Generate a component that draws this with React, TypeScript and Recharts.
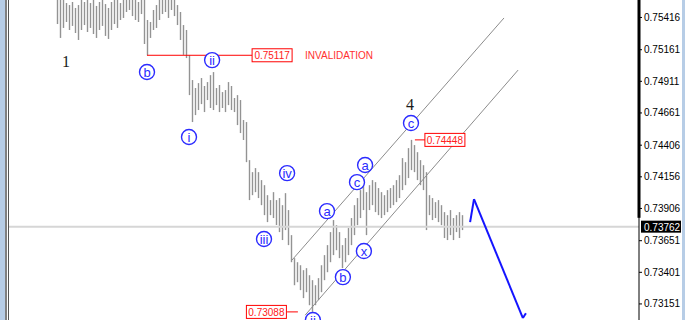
import React from 'react';
import { ComposedChart, Bar, XAxis, YAxis, ReferenceLine, ReferenceDot } from 'recharts';

const yTicks = [0.73151, 0.73401, 0.73651, 0.73906, 0.74156, 0.74406, 0.74661, 0.74911, 0.75161, 0.75416];

const highs = [
  0.75594, 0.75594, 0.75554, 0.75530, 0.75514, 0.75538, 0.75491, 0.75514, 0.75554, 0.75538,
  0.75594, 0.75530, 0.75554, 0.75507, 0.75538, 0.75554, 0.75522, 0.75491, 0.75538, 0.75594,
  0.75554, 0.75530, 0.75594, 0.75594, 0.75594, 0.75554, 0.75594, 0.75538, 0.75594, 0.75554,
  0.75396, 0.75380, 0.75475, 0.75514, 0.75594, 0.75594, 0.75554, 0.75594, 0.75594, 0.75554,
  0.75514, 0.75459, 0.75356, 0.75317, 0.75118, 0.74921, 0.74858, 0.74897, 0.74937, 0.74874,
  0.74905, 0.74960, 0.74984, 0.74858, 0.74882, 0.74826, 0.74842, 0.74905, 0.74874, 0.74779,
  0.74802, 0.74763, 0.74605, 0.74589, 0.74288, 0.74193, 0.74225, 0.74193, 0.74130, 0.74090,
  0.74011, 0.73972, 0.74035, 0.73972, 0.73988, 0.73932, 0.74027, 0.73893, 0.73695, 0.73513,
  0.73481, 0.73457, 0.73418, 0.73434, 0.73378, 0.73339, 0.73299, 0.73355, 0.73457, 0.73537,
  0.73616, 0.73719, 0.73814, 0.73774, 0.73719, 0.73616, 0.73672, 0.73751, 0.73830, 0.73932,
  0.73988, 0.74051, 0.74090, 0.74035, 0.74090, 0.74130, 0.74114, 0.74067, 0.74035, 0.74011,
  0.74051, 0.74067, 0.74090, 0.74130, 0.74169, 0.74304, 0.74272, 0.74383, 0.74448, 0.74407,
  0.74351, 0.74288, 0.74248, 0.74193, 0.74011, 0.73988, 0.73956, 0.73972, 0.73932, 0.73877,
  0.73853, 0.73893, 0.73830, 0.73853, 0.73877, 0.73853,
];

const lows = [
  0.75364, 0.75254, 0.75333, 0.75380, 0.75317, 0.75349, 0.75293, 0.75238, 0.75317, 0.75356,
  0.75301, 0.75333, 0.75285, 0.75254, 0.75317, 0.75349, 0.75270, 0.75246, 0.75317, 0.75364,
  0.75333, 0.75396, 0.75412, 0.75459, 0.75475, 0.75427, 0.75396, 0.75380, 0.75443, 0.75206,
  0.75117, 0.75254, 0.75317, 0.75333, 0.75396, 0.75443, 0.75459, 0.75412, 0.75475, 0.75427,
  0.75356, 0.75238, 0.75120, 0.75095, 0.74802, 0.74589, 0.74644, 0.74684, 0.74731, 0.74668,
  0.74763, 0.74700, 0.74684, 0.74723, 0.74668, 0.74700, 0.74668, 0.74723, 0.74684, 0.74668,
  0.74565, 0.74502, 0.74447, 0.74272, 0.73972, 0.74011, 0.74035, 0.73988, 0.73932, 0.73853,
  0.73798, 0.73853, 0.73830, 0.73775, 0.73719, 0.73656, 0.73735, 0.73616, 0.73481, 0.73299,
  0.73323, 0.73260, 0.73197, 0.73244, 0.73141, 0.73088, 0.73141, 0.73181, 0.73244, 0.73339,
  0.73402, 0.73481, 0.73537, 0.73576, 0.73513, 0.73434, 0.73481, 0.73537, 0.73616, 0.73695,
  0.73774, 0.73830, 0.73893, 0.73695, 0.73893, 0.73932, 0.73877, 0.73853, 0.73830, 0.73853,
  0.73877, 0.73909, 0.73932, 0.73956, 0.73988, 0.74051, 0.74090, 0.74146, 0.74209, 0.74193,
  0.74130, 0.74090, 0.74051, 0.73735, 0.73853, 0.73814, 0.73830, 0.73798, 0.73774, 0.73672,
  0.73656, 0.73695, 0.73656, 0.73719, 0.73672, 0.73735,
];

const lastPrice = 0.73762;

const upperChannel = [{ i: 78.3, p: 0.73497 }, { i: 149, p: 0.75412 }];
const lowerChannel = [{ i: 82.7, p: 0.73062 }, { i: 153.7, p: 0.75 }];
const forecast = [
  { i: 137.7, p: 0.73798 },
  { i: 139, p: 0.7398 },
  { i: 155.3, p: 0.73039 },
  { i: 156.3, p: 0.73078 },
];

const circledLabels = [
  { t: 'b', i: 30, p: 0.74985 },
  { t: 'ii', i: 51.7, p: 0.75079 },
  { t: 'i', i: 44, p: 0.74471 },
  { t: 'iv', i: 76.7, p: 0.74185 },
  { t: 'iii', i: 69, p: 0.73664 },
  { t: 'a', i: 90, p: 0.73885 },
  { t: 'b', i: 95.3, p: 0.73363 },
  { t: 'c', i: 100, p: 0.74114 },
  { t: 'a', i: 102.7, p: 0.74249 },
  { t: 'x', i: 102.3, p: 0.73569 },
  { t: 'c', i: 118, p: 0.74581 },
  { t: 'ii', i: 85.3, p: 0.73024 },
];

const waveNumbers = [
  { t: '1', i: 3, p: 0.75071 },
  { t: '4', i: 117.7, p: 0.74731 },
];

const priceTags = [
  { text: '0.75117', p: 0.75117, i: 71.7, from: 30, to: 65 },
  { text: '0.74448', p: 0.74448, i: 129.3, from: 119.3, to: 122.7 },
  { text: '0.73088', p: 0.73088, i: 69.8, from: 76.7, to: 80.3 },
];

const invalidationNote = { text: 'INVALIDATION', i: 82.7, p: 0.75117 };

const data = highs.map((h, i) => ({ i, range: [lows[i], h] }));

const BarShape = (props: any) => {
  const { x, y, width, height } = props;
  if (x == null || y == null) return null;
  const cx = Math.round(x + width / 2) + 0.5;
  const y1 = Math.min(y, y + height);
  const y2 = Math.max(y, y + height);
  return <line x1={cx} x2={cx} y1={y1} y2={y2} stroke="#939393" strokeWidth={1.4} />;
};

const PriceTag = (props: any) => {
  const vb = props.viewBox || {};
  const x = (vb.x || 0) + (vb.width || 0);
  const y = vb.y || 0;
  return (
    <g>
      <rect x={x + 2} y={y - 6} width={40} height={12} fill="#000" />
      <text x={x + 5} y={y + 0.5} fill="#fff" fontSize={10} fontFamily="Liberation Sans, Arial, sans-serif" dominantBaseline="central">
        {lastPrice.toFixed(5)}
      </text>
    </g>
  );
};

const font = 'Liberation Sans, Arial, sans-serif';

export default function App() {
  return (
    <div style={{ position: 'relative', width: 685, height: 320, background: '#fff', overflow: 'hidden' }}>
      <style>{`body{margin:0;}`}</style>
      <ComposedChart width={685} height={320} data={data} margin={{ top: 0, right: 0, bottom: 0, left: 9 }}>
        <XAxis type="number" dataKey="i" domain={[-16, 194]} hide allowDataOverflow />
        <YAxis
          orientation="right"
          domain={[0.73024, 0.75554]}
          allowDataOverflow
          ticks={yTicks}
          width={46}
          tickSize={3}
          tickMargin={2}
          axisLine={{ stroke: '#000', strokeWidth: 1 }}
          tickLine={{ stroke: '#000' }}
          tick={{ fontSize: 10, fill: '#000', fontFamily: font, textAnchor: 'start' }}
          tickFormatter={(v: number) => v.toFixed(5)}
        />
        <ReferenceLine y={lastPrice} stroke="#d6d6d6" strokeWidth={2} label={<PriceTag />} />
        <Bar dataKey="range" barSize={1} shape={<BarShape />} isAnimationActive={false} />
        <ReferenceLine segment={[{ x: upperChannel[0].i, y: upperChannel[0].p }, { x: upperChannel[1].i, y: upperChannel[1].p }]} stroke="#8c8c8c" strokeWidth={1} />
        <ReferenceLine segment={[{ x: lowerChannel[0].i, y: lowerChannel[0].p }, { x: lowerChannel[1].i, y: lowerChannel[1].p }]} stroke="#8c8c8c" strokeWidth={1} />
        {forecast.slice(1).map((pt, k) => (
          <ReferenceLine
            key={'f' + k}
            segment={[{ x: forecast[k].i, y: forecast[k].p }, { x: pt.i, y: pt.p }]}
            stroke="#1414ff"
            strokeWidth={2}
            ifOverflow="visible"
          />
        ))}
        <ReferenceLine segment={[{ x: 194, y: 0.7556 }, { x: 194, y: 0.73832 }]} stroke="#000" strokeWidth={3} ifOverflow="visible" />
        {priceTags.map((t, k) => (
          <ReferenceLine key={'pl' + k} segment={[{ x: t.from, y: t.p }, { x: t.to, y: t.p }]} stroke="#ff0000" strokeWidth={1} ifOverflow="visible" />
        ))}
        {priceTags.map((t, k) => (
          <ReferenceDot
            key={'pt' + k}
            x={t.i}
            y={t.p}
            r={1}
            ifOverflow="visible"
            shape={(p: any) => (
              <g>
                <rect x={p.cx - 20} y={p.cy - 6.5} width={40} height={13} fill="#fff" stroke="#ff0000" strokeWidth={1} />
                <text x={p.cx} y={p.cy + 0.5} textAnchor="middle" dominantBaseline="central" fontSize={10} fontFamily={font} fill="#ff2020">
                  {t.text}
                </text>
              </g>
            )}
          />
        ))}
        <ReferenceDot
          x={invalidationNote.i}
          y={invalidationNote.p}
          r={1}
          ifOverflow="visible"
          shape={(p: any) => (
            <text x={p.cx} y={p.cy} dominantBaseline="central" fontSize={10} fontFamily={font} fill="#ff3030">
              {invalidationNote.text}
            </text>
          )}
        />
        {circledLabels.map((c, k) => (
          <ReferenceDot
            key={'c' + k}
            x={c.i}
            y={c.p}
            r={7}
            ifOverflow="visible"
            shape={(p: any) => (
              <g>
                <circle cx={p.cx} cy={p.cy} r={7.5} fill="#fff" stroke="#2b2bff" strokeWidth={1.4} />
                <text x={p.cx} y={p.cy + 0.5} textAnchor="middle" dominantBaseline="central" fontSize={13} fontFamily={font} fill="#2b2bff">
                  {c.t}
                </text>
              </g>
            )}
          />
        ))}
        {waveNumbers.map((n, k) => (
          <ReferenceDot
            key={'n' + k}
            x={n.i}
            y={n.p}
            r={1}
            ifOverflow="visible"
            shape={(p: any) => (
              <text x={p.cx} y={p.cy} textAnchor="middle" dominantBaseline="central" fontSize={16} fontFamily="Liberation Serif, Times New Roman, serif" fill="#1a1a1a">
                {n.t}
              </text>
            )}
          />
        ))}
      </ComposedChart>
      <div style={{ position: 'absolute', left: 0, top: 0, width: 5, height: 320, background: '#b7cde6' }} />
      <div style={{ position: 'absolute', left: 5, top: 0, width: 2, height: 320, background: '#808080' }} />
      <div style={{ position: 'absolute', left: 8, top: 0, width: 1, height: 320, background: '#555' }} />
      <div style={{ position: 'absolute', left: 682, top: 0, width: 3, height: 320, background: '#b7cde6' }} />
    </div>
  );
}
